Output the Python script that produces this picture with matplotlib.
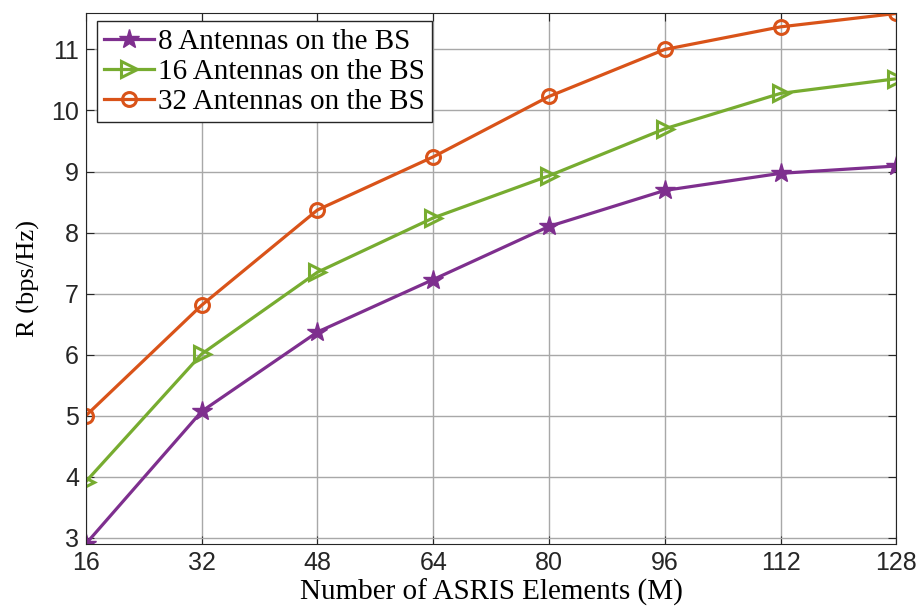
import matplotlib.pyplot as plt

# Achievable rate vs. number of ASRIS elements
elements = [16, 32, 48, 64, 80, 96, 112, 128]
rate_8 = [2.90, 5.07, 6.37, 7.23, 8.10, 8.69, 8.97, 9.09]
rate_16 = [3.92, 6.01, 7.35, 8.24, 8.93, 9.70, 10.28, 10.52]
rate_32 = [5.00, 6.81, 8.37, 9.24, 10.23, 11.00, 11.37, 11.59]
labels = ["8 Antennas on the BS", "16 Antennas on the BS", "32 Antennas on the BS"]

fig = plt.figure(figsize=(9.24, 6.11), dpi=100)
ax = fig.add_axes([0.093, 0.110, 0.877, 0.869])

ax.plot(elements, rate_8, color="#7E2F8E", lw=2.3, marker="*", ms=15,
        label=labels[0])
ax.plot(elements, rate_16, color="#77AC30", lw=2.3, marker=">", ms=12,
        mfc="none", mew=2.2, label=labels[1])
ax.plot(elements, rate_32, color="#D95319", lw=2.3, marker="o", ms=10,
        mfc="none", mew=2.2, label=labels[2])

ax.set_xlim(16, 128)
ax.set_ylim(2.9, 11.6)
ax.set_xticks(elements)
ax.set_yticks(range(3, 12))
ax.grid(True, color="#a8a8a8", lw=1)
ax.tick_params(direction="in", top=True, right=True, length=6,
               labelsize=18, colors="#262626", pad=5)
for lbl in ax.get_xticklabels() + ax.get_yticklabels():
    lbl.set_fontfamily("Liberation Sans")
    lbl.set_color("#262626")
for sp in ax.spines.values():
    sp.set_color("#262626")

ax.set_xlabel("Number of ASRIS Elements (M)", fontfamily="Liberation Serif",
              fontsize=21, labelpad=3)
ax.set_ylabel("R (bps/Hz)", fontfamily="Liberation Serif", fontsize=19,
              labelpad=8)

leg = ax.legend(loc="upper left", bbox_to_anchor=(0.006, 0.995),
                prop={"family": "Liberation Serif", "size": 21},
                fancybox=False, edgecolor="#262626", framealpha=1,
                handlelength=1.7, handletextpad=0.15, borderpad=0.25,
                labelspacing=0.12, borderaxespad=0.2)
leg.get_frame().set_linewidth(1)

fig.savefig("out.png", dpi=100)
